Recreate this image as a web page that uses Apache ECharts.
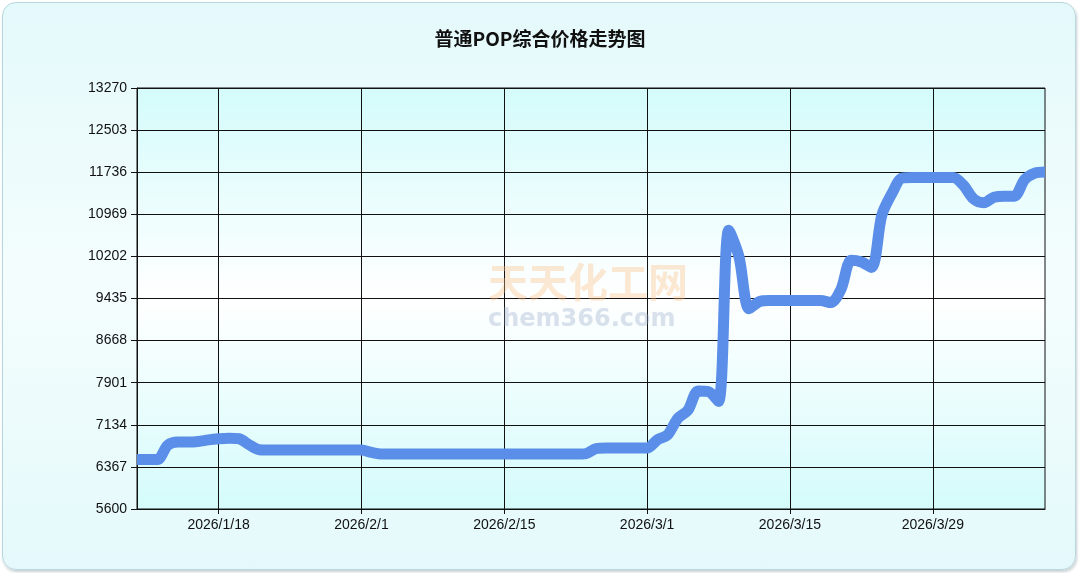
<!DOCTYPE html>
<html>
<head>
<meta charset="utf-8">
<script src="https://cdn.jsdelivr.net/npm/echarts@6/dist/echarts.min.js"></script>
<style>
html,body{margin:0;padding:0;background:#fff}
#box{position:absolute;left:2px;top:2px;width:1072px;height:566px;border-radius:14px;border:1px solid #b9d6dc;
background:linear-gradient(#e4f9fb,#f4fdfd 50%,#e4f9fb);box-shadow:1px 2px 3px #c8d0d2}
#chart{width:1080px;height:573px;position:absolute;left:0;top:0}
</style>
</head>
<body>
<div id="box"></div>
<div id="chart"></div>
<script>
const startDay = new Date(2026, 0, 10)
const dayCount = 90
const labelDays = ['2026/1/18', '2026/2/1', '2026/2/15', '2026/3/1', '2026/3/15', '2026/3/29']
const yTicks = [5600, 6367, 7134, 7901, 8668, 9435, 10202, 10969, 11736, 12503, 13270]

const janPrices = [6500, 6500, 6500, 6760, 6820, 6820, 6830, 6860, 6880, 6890, 6880, 6770, 6680,
	6675, 6675, 6675, 6675, 6675, 6675, 6675, 6675, 6675]
const febPrices = [6675, 6630, 6600, 6600, 6600, 6600, 6600, 6600, 6600, 6600, 6600, 6600, 6600, 6600,
	6600, 6600, 6600, 6600, 6600, 6600, 6600, 6600, 6610, 6700, 6710, 6710, 6710, 6710]
const marPrices = [6710, 6860, 6950, 7250, 7400, 7750, 7740, 7560, 10680, 10200, 9250, 9380,
	9400, 9400, 9400, 9400, 9400, 9400, 9360, 9600, 10130, 10100, 10000, 10950, 11350, 11630,
	11640, 11640, 11640, 11640, 11640]
const aprPrices = [11500, 11250, 11180, 11280, 11300, 11300, 11600, 11720, 11740]
const prices = [].concat(janPrices, febPrices, marPrices, aprPrices)

const dates = []
for (let i = 0; i < dayCount; i++) {
	const d = new Date(startDay.getTime() + i * 86400000)
	dates.push(d.getFullYear() + '/' + (d.getMonth() + 1) + '/' + d.getDate())
}
const showDay = (idx) => labelDays.indexOf(dates[idx]) >= 0

const chart = echarts.init(document.getElementById('chart'))
chart.setOption({
	animation: false,
	title: {
		text: '普通POP综合价格走势图',
		left: 'center',
		top: 24,
		textStyle: { fontSize: 19, fontWeight: 'bold', color: '#111', fontFamily: 'Noto Sans CJK SC' },
	},
	graphic: [
		{ type: 'text', left: 488, top: 262, style: { text: '天天化工网', fontSize: 40, fontWeight: 'bold', fill: 'rgba(250,190,130,0.35)', fontFamily: 'Noto Sans CJK SC' }, z: 1 },
		{ type: 'text', left: 488, top: 308, style: { text: 'chem366.com', fontSize: 24, fontWeight: 'bold', fill: 'rgba(150,170,200,0.35)', fontFamily: 'DejaVu Sans' }, z: 1 },
	],
	grid: {
		left: 137, right: 35, top: 88, bottom: 64,
		show: true,
		borderColor: '#111',
		borderWidth: 1,
		backgroundColor: new echarts.graphic.LinearGradient(0, 0, 0, 1, [
			{ offset: 0, color: '#d4fbfb' },
			{ offset: 0.5, color: '#ffffff' },
			{ offset: 1, color: '#d4fbfb' },
		]),
	},
	xAxis: {
		type: 'category',
		data: dates,
		boundaryGap: false,
		axisLine: { lineStyle: { color: '#111' } },
		axisTick: { interval: showDay, length: 5, lineStyle: { color: '#111' } },
		axisLabel: { interval: showDay, color: '#111', fontSize: 14, margin: 9, fontFamily: 'Liberation Sans' },
		splitLine: { show: true, interval: showDay, lineStyle: { color: '#111', width: 1 } },
	},
	yAxis: {
		type: 'value',
		min: yTicks[0],
		max: yTicks[yTicks.length - 1],
		interval: 767,
		axisLine: { show: true, lineStyle: { color: '#111' } },
		axisTick: { show: true, length: 6, lineStyle: { color: '#111' } },
		axisLabel: { color: '#111', fontSize: 14, margin: 10, fontFamily: 'Liberation Sans', formatter: (v) => String(v) },
		splitLine: { lineStyle: { color: '#111', width: 1 } },
	},
	series: [{
		type: 'line',
		data: prices,
		smooth: 0.3,
		showSymbol: false,
		z: 5,
		lineStyle: { color: '#5b8ee8', width: 11 },
	}],
})
</script>
</body>
</html>
